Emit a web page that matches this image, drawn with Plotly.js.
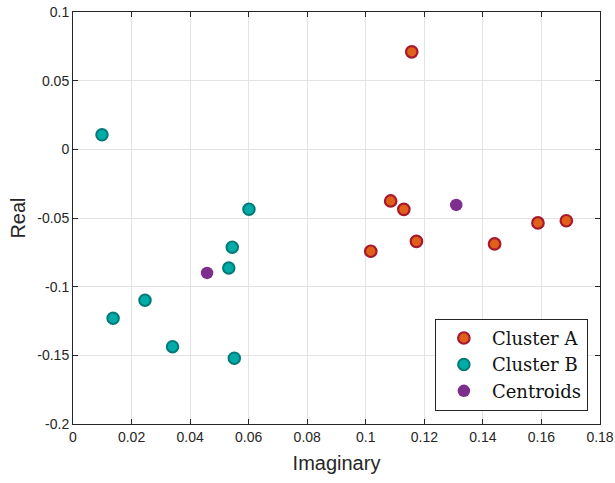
<!DOCTYPE html>
<html>
<head>
<meta charset="utf-8">
<script src="https://cdn.plot.ly/plotly-3.0.1.min.js"></script>
<style>html,body{margin:0;padding:0;background:#fff;}#chart{width:615px;height:483px;}</style>
</head>
<body>
<div id="chart"></div>
<script>
// Cluster A points (Imaginary, Real)
const clusterA_x = [0.1157, 0.1085, 0.1130, 0.1173, 0.1017, 0.1440, 0.1588, 0.1685];
const clusterA_y = [0.0710, -0.0376, -0.0437, -0.0670, -0.0742, -0.0689, -0.0536, -0.0520];
// Cluster B points
const clusterB_x = [0.0099, 0.0601, 0.0544, 0.0532, 0.0246, 0.0137, 0.0340, 0.0551];
const clusterB_y = [0.0106, -0.0437, -0.0713, -0.0864, -0.1099, -0.1230, -0.1437, -0.1521];
// Centroids
const centroid_x = [0.0458, 0.1309];
const centroid_y = [-0.0900, -0.0405];

const xTickVals = [0, 0.02, 0.04, 0.06, 0.08, 0.1, 0.12, 0.14, 0.16, 0.18];
const xTickText = ["0", "0.02", "0.04", "0.06", "0.08", "0.1", "0.12", "0.14", "0.16", "0.18"];
const yTickVals = [-0.2, -0.15, -0.1, -0.05, 0, 0.05, 0.1];
const yTickText = ["-0.2", "-0.15", "-0.1", "-0.05", "0", "0.05", "0.1"];

const traces = [
  {x: clusterA_x, y: clusterA_y, mode: 'markers', type: 'scatter', name: 'Cluster A',
   marker: {size: 11.5, color: '#E0601A', line: {color: '#A8182C', width: 2.2}}},
  {x: clusterB_x, y: clusterB_y, mode: 'markers', type: 'scatter', name: 'Cluster B',
   marker: {size: 11.5, color: '#00ABA8', line: {color: '#047A78', width: 2}}},
  {x: centroid_x, y: centroid_y, mode: 'markers', type: 'scatter', name: 'Centroids',
   marker: {size: 12.5, color: '#7E2F8E', line: {color: '#7E2F8E', width: 0}}}
];

const axisCommon = {
  showline: true, linecolor: '#262626', linewidth: 1, mirror: 'ticks',
  ticks: 'inside', ticklen: 5, tickcolor: '#262626', tickwidth: 1,
  showgrid: true, gridcolor: '#e3e3e3', gridwidth: 1, zeroline: false,
  tickfont: {family: 'Liberation Sans, Arial, sans-serif', size: 14, color: '#262626'},
  tickmode: 'array'
};

const layout = {
  width: 615, height: 483,
  margin: {l: 73, r: 15, t: 12, b: 59},
  paper_bgcolor: '#fff', plot_bgcolor: '#fff',
  showlegend: true,
  xaxis: Object.assign({}, axisCommon, {
    range: [0, 0.18], tickvals: xTickVals, ticktext: xTickText,
    title: {text: 'Imaginary', font: {family: 'Liberation Sans, Arial, sans-serif', size: 20, color: '#262626'}, standoff: 12}
  }),
  yaxis: Object.assign({}, axisCommon, {
    range: [-0.2, 0.1], tickvals: yTickVals, ticktext: yTickText,
    title: {text: 'Real', font: {family: 'Liberation Sans, Arial, sans-serif', size: 20, color: '#262626'}, standoff: 6}
  }),
  legend: {
    x: 0.977, y: 0.032, xanchor: 'right', yanchor: 'bottom',
    bgcolor: '#fff', bordercolor: '#262626', borderwidth: 1,
    font: {family: 'DejaVu Serif, serif', size: 18, color: '#111'},
    tracegroupgap: 0, itemwidth: 46
  }
};

Plotly.newPlot('chart', traces, layout, {displayModeBar: false, staticPlot: true});
</script>
</body>
</html>
